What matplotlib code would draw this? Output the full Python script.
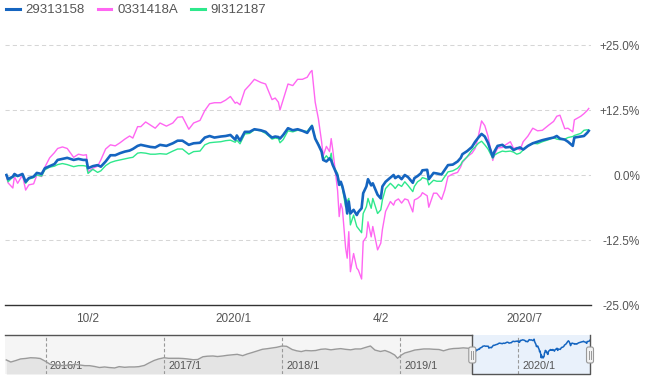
import matplotlib
matplotlib.use('Agg')
import matplotlib.pyplot as plt
import matplotlib.dates as mdates
from matplotlib.lines import Line2D
from matplotlib.patches import FancyBboxPatch
from matplotlib.transforms import IdentityTransform, blended_transform_factory
import pandas as pd

plt.rcParams['font.family'] = ['Liberation Sans', 'DejaVu Sans']

# ---------------- data ----------------
series_names = ['29313158', '0331418A', '9I312187']
start_date = '2019-08-12'
day_offsets = [0, 1, 4, 5, 7, 10, 12, 14, 17, 19, 22, 24, 27, 30, 32, 35, 38, 42, 45, 48,
               50, 51, 54, 57, 59, 62, 65, 68, 71, 74, 77, 79, 82, 84, 87, 90, 93, 96, 100, 104,
               107, 110, 114, 117, 121, 124, 127, 130, 134, 137, 140, 143, 144, 146, 149, 152, 155, 159, 162, 164,
               166, 168, 170, 171, 173, 176, 179, 182, 185, 188, 190, 191, 193, 195, 197, 198, 200, 202, 203, 204,
               207, 208, 209, 210, 212, 213, 214, 215, 217, 219, 220, 222, 223, 225, 226, 228, 229, 232, 234, 235,
               237, 240, 242, 243, 245, 247, 249, 251, 254, 255, 257, 259, 260, 263, 264, 267, 269, 272, 274, 276,
               279, 282, 284, 285, 288, 291, 293, 295, 297, 299, 301, 304, 305, 307, 310, 312, 315, 317, 319, 321,
               323, 326, 329, 332, 335, 339, 342, 344, 346, 349, 351, 354, 355, 359, 361, 363, 364]
blue = [0, -0.8, -0.3, 0.2, -0.2, 0.2, -1.3, -0.6, -0.3, 0.4, 0.2, 1.3, 1.7, 2.1, 2.9, 3.1, 3.3, 2.9, 3.1, 2.9,
        2.9, 1.3, 1.7, 1.9, 1.6, 2.6, 3.8, 3.8, 4.2, 4.5, 4.7, 5.0, 5.6, 5.8, 5.6, 5.4, 5.3, 5.8, 5.6, 6.1,
        6.6, 6.6, 5.8, 6.1, 6.2, 7.2, 7.5, 7.2, 7.4, 7.5, 7.7, 6.8, 7.6, 6.6, 8.3, 8.3, 8.8, 8.6, 8.3, 7.7,
        7.2, 7.4, 7.3, 7.0, 7.7, 9.0, 8.6, 8.8, 8.5, 8.1, 9.0, 9.4, 7.0, 5.8, 4.5, 2.9, 2.6, 3.2, 2.8, 1.9,
        -0.2, -1.9, -1.3, -2.2, -4.8, -7.4, -5.1, -7.4, -6.7, -7.7, -7.1, -6.4, -3.5, -2.2, -0.8, -2.0, -1.6, -3.8, -4.5, -2.2,
        -1.3, -0.5, 0.0, -0.6, -0.2, -0.8, 0.0, -0.4, -1.5, -0.6, -0.2, 0.3, 0.9, 1.0, -0.8, 0.4, 0.3, 0.1, 1.0, 1.9,
        2.0, 2.6, 3.3, 4.0, 4.6, 5.4, 6.4, 7.2, 7.9, 7.4, 6.2, 3.5, 4.5, 5.6, 5.8, 5.3, 5.4, 4.8, 5.1, 5.3,
        4.9, 5.6, 6.1, 6.4, 6.7, 7.0, 7.2, 7.5, 7.0, 6.8, 6.4, 5.6, 7.2, 7.4, 7.5, 8.1, 8.5]
pink = [-0.3, -1.5, -2.5, -0.3, -1.6, 0.0, -2.9, -1.9, -1.7, 0.0, -0.3, 1.5, 3.3, 4.3, 5.1, 5.4, 5.1, 3.4, 4.0, 3.8,
        3.9, 0.6, 1.3, 1.7, 2.9, 5.0, 5.8, 5.6, 6.2, 6.9, 7.5, 7.1, 9.3, 9.3, 10.2, 9.6, 9.0, 10.0, 9.4, 10.0,
        11.1, 11.2, 8.8, 10.0, 10.5, 12.4, 13.7, 13.9, 13.9, 14.4, 15.1, 13.8, 14.0, 13.5, 16.3, 17.3, 18.4, 17.8, 17.5, 16.0,
        14.5, 14.8, 14.0, 12.5, 14.5, 17.5, 17.2, 18.4, 18.4, 18.8, 19.8, 20.1, 14.0, 10.8, 6.4, 3.7, 5.5, 4.5, 7.0, 4.8,
        -3.0, -8.0, -5.5, -6.5, -14.0, -16.0, -10.9, -18.6, -15.1, -17.9, -18.3, -20.0, -12.8, -11.9, -9.0, -11.9, -9.9, -14.4, -13.1, -10.5,
        -7.0, -5.1, -5.8, -5.0, -4.6, -5.4, -4.6, -4.8, -7.1, -4.8, -4.5, -4.0, -3.4, -4.0, -6.2, -3.5, -3.5, -4.7, -2.9, -0.3,
        0.2, 0.5, 1.6, 2.4, 3.5, 4.2, 5.1, 7.5, 10.4, 9.5, 7.5, 2.8, 3.8, 5.2, 5.3, 5.8, 6.4, 5.1, 5.3, 4.8,
        6.4, 7.5, 9.0, 8.5, 8.6, 9.6, 10.3, 11.3, 11.5, 8.9, 9.0, 8.3, 10.6, 11.3, 11.8, 12.4, 12.8]
green = [0.0, -1.3, -0.4, -0.2, -0.2, 0.0, -1.6, -0.8, -0.5, 0.0, -0.2, 1.0, 1.5, 1.7, 2.0, 2.2, 2.0, 1.6, 1.8, 1.8,
         1.7, 0.3, 1.1, 0.5, 0.8, 1.8, 2.4, 2.7, 2.9, 3.1, 3.3, 3.4, 4.2, 4.3, 4.2, 4.0, 4.0, 4.1, 4.0, 4.6,
         5.0, 5.0, 4.0, 4.5, 4.6, 5.8, 6.2, 6.3, 6.4, 6.6, 6.7, 6.3, 6.7, 6.0, 7.9, 8.0, 8.7, 8.5, 8.0, 7.5,
         6.9, 7.1, 7.0, 6.2, 6.8, 8.5, 8.3, 8.6, 8.5, 8.4, 9.2, 9.6, 7.0, 6.0, 4.5, 2.9, 3.7, 2.9, 4.2, 1.9,
         0.3, -1.3, -1.8, -2.5, -6.1, -5.0, -4.5, -9.6, -7.7, -9.9, -10.3, -11.1, -7.4, -6.1, -4.5, -6.4, -4.5, -7.4, -6.7, -4.8,
         -2.6, -1.6, -2.2, -2.6, -1.8, -2.2, -1.3, -2.0, -3.2, -2.2, -1.3, -0.9, -0.5, -0.8, -1.9, -1.0, -1.2, -1.2, -0.3, 0.6,
         0.8, 1.3, 2.0, 2.6, 3.5, 4.8, 5.4, 6.1, 6.5, 5.8, 5.0, 3.2, 3.8, 4.2, 4.6, 4.5, 4.6, 4.4, 4.0, 4.2,
         4.8, 5.6, 6.1, 6.0, 6.4, 6.8, 7.2, 6.9, 6.8, 6.9, 7.2, 7.4, 7.6, 8.0, 8.6, 8.7, 8.6]

ytick_values = [25, 12.5, 0, -12.5, -25]
ytick_labels = ['+25.0%', '+12.5%', '0.0%', '-12.5%', '-25.0%']
xtick_dates = ['2019-10-02', '2020-01-01', '2020-04-02', '2020-07-01']
xtick_labels = ['10/2', '2020/1', '4/2', '2020/7']

# navigator (long history of the first fund, index level)
nav_dates = ['2015-09-01', '2015-09-15', '2015-10-01', '2015-10-15', '2015-11-01', '2015-11-15', '2015-12-01', '2015-12-15',
             '2016-01-01', '2016-01-15', '2016-02-01', '2016-02-15', '2016-03-01', '2016-03-15', '2016-04-01', '2016-04-15',
             '2016-05-01', '2016-05-15', '2016-06-01', '2016-06-15', '2016-07-01', '2016-07-15', '2016-08-01', '2016-08-15',
             '2016-09-01', '2016-09-15', '2016-10-01', '2016-10-15', '2016-11-01', '2016-11-15', '2016-12-01', '2016-12-15',
             '2017-01-01', '2017-01-15', '2017-02-01', '2017-02-15', '2017-03-01', '2017-03-15', '2017-04-01', '2017-04-15',
             '2017-05-01', '2017-05-15', '2017-06-01', '2017-06-15', '2017-07-01', '2017-07-15', '2017-08-01', '2017-08-15',
             '2017-09-01', '2017-09-15', '2017-10-01', '2017-10-15', '2017-11-01', '2017-11-15', '2017-12-01', '2017-12-15',
             '2018-01-01', '2018-01-15', '2018-02-01', '2018-02-15', '2018-03-01', '2018-03-15', '2018-04-01', '2018-04-15',
             '2018-05-01', '2018-05-15', '2018-06-01', '2018-06-15', '2018-07-01', '2018-07-15', '2018-08-01', '2018-08-15',
             '2018-09-01', '2018-09-15', '2018-10-01', '2018-10-15', '2018-11-01', '2018-11-15', '2018-12-01', '2018-12-15',
             '2018-12-24', '2019-01-05', '2019-01-15', '2019-02-01', '2019-02-15', '2019-03-01', '2019-03-15', '2019-04-01',
             '2019-04-15', '2019-05-01', '2019-05-15', '2019-06-01', '2019-06-15', '2019-07-01', '2019-07-15', '2019-08-01']
nav_values = [90.5, 88.6, 90.0, 91.4, 91.9, 92.5, 92.3, 91.8,
              89.1, 86.5, 85.9, 85.5, 85.5, 85.9, 86.4, 85.9,
              85.3, 85.3, 84.5, 83.6, 84.1, 83.6, 83.2, 84.4,
              83.8, 84.1, 84.1, 84.4, 85.5, 87.7, 90.0, 91.4,
              92.5, 92.0, 92.0, 92.0, 91.8, 91.4, 90.7, 90.9,
              93.4, 93.9, 94.1, 93.6, 94.1, 94.7, 95.2, 95.6,
              94.4, 95.9, 97.3, 98.6, 100.2, 100.7, 101.4, 102.0,
              103.2, 102.9, 100.0, 98.8, 98.1, 99.1, 98.8, 99.1,
              100.2, 100.5, 99.7, 100.3, 100.8, 100.2, 99.7, 100.5,
              100.5, 101.8, 103.2, 99.5, 98.2, 99.1, 97.3, 95.0,
              92.0, 95.0, 96.8, 98.2, 99.5, 100.0, 100.5, 100.5,
              100.2, 100.0, 98.8, 100.3, 100.9, 101.1, 101.5, 101.1]
nav_start = '2015-08-28'
nav_year_dates = ['2016-01-01', '2017-01-01', '2018-01-01', '2019-01-01', '2020-01-01']
nav_year_labels = ['2016/1', '2017/1', '2018/1', '2019/1', '2020/1']

# ---------------- styling ----------------
BLUE = '#1565c0'
PINK = '#ff66f2'
GREEN = '#2ee88c'
TXT = '#555555'

W, H = 649, 391
fig = plt.figure(figsize=(W / 100, H / 100), dpi=100)
fig.patch.set_facecolor('white')


def px(l, t, r, b):
    return [l / W, 1 - b / H, (r - l) / W, (b - t) / H]


start = pd.Timestamp(start_date)
dates = start + pd.to_timedelta(day_offsets, unit='D')

ax = fig.add_axes(px(5, 28, 591, 305))
ax.plot(dates, pink, color=PINK, lw=1.0, zorder=3)
ax.plot(dates, green, color=GREEN, lw=1.0, zorder=4)
ax.plot(dates, blue, color=BLUE, lw=1.9, zorder=5)
ax.set_xlim(start - pd.Timedelta(days=0.9), start + pd.Timedelta(days=365.4))
ax.set_ylim(-25, 28.27)

ax.set_yticks(ytick_values)
ax.set_yticklabels(ytick_labels)
ax.yaxis.tick_right()
ax.tick_params(axis='y', length=0, pad=35.3, labelsize=8.5, labelcolor=TXT)
for lab in ax.get_yticklabels():
    lab.set_horizontalalignment('right')
ax.yaxis.grid(True, color='#d6d6d6', lw=0.75, ls=(0, (4, 3)), zorder=1)

ax.set_xticks(pd.to_datetime(xtick_dates))
ax.set_xticklabels(xtick_labels)
ax.tick_params(axis='x', length=0, pad=6, labelsize=8.5, labelcolor=TXT)

for s in ['top', 'left', 'right']:
    ax.spines[s].set_visible(False)
ax.spines['bottom'].set_color('#333333')
ax.spines['bottom'].set_linewidth(1.0)
ax.spines['bottom'].set_zorder(6)

handles = [Line2D([], [], color=c, lw=2.2) for c in (BLUE, PINK, GREEN)]
fig.legend(handles, series_names, loc='upper left', bbox_to_anchor=(6 / W, 1 - 4 / H),
           ncol=3, frameon=False, fontsize=9.5, handlelength=1.05, handletextpad=0.45,
           columnspacing=0.95, borderaxespad=0, borderpad=0, labelcolor=TXT)

# ---------------- navigator ----------------
ax2 = fig.add_axes(px(5, 335, 590, 374))
nav_x = pd.to_datetime(nav_dates)
sel_start = dates[0]
sel_end = dates[-1]
n_left = mdates.date2num(pd.Timestamp(nav_start))
n_sel0 = mdates.date2num(sel_start)
n_sel1 = mdates.date2num(sel_end)
ax2.set_xlim(n_left, n_sel1)
ax2.set_ylim(77.7, 113.2)
ax2.axis('off')

trans = blended_transform_factory(ax2.transData, ax2.transAxes)
ax2.axvspan(n_left, n_sel0, color='#f5f5f5', zorder=0, lw=0)
ax2.axvspan(n_sel0, n_sel1, color='#e9f1fb', zorder=0, lw=0)

hist_x = list(mdates.date2num(nav_x)) + [n_sel0]
nav_blue = [100 * (1 + v / 100) for v in blue]
hist_y = list(nav_values) + [nav_blue[0]]
ax2.fill_between(hist_x, hist_y, 77.7, color='#e4e4e4', lw=0, zorder=1)
ax2.plot(hist_x, hist_y, color='#9a9a9a', lw=1.0, zorder=3)
ax2.plot(mdates.date2num(dates), nav_blue, color=BLUE, lw=1.1, zorder=3)

for d, lab in zip(mdates.date2num(pd.to_datetime(nav_year_dates)), nav_year_labels):
    ax2.plot([d, d], [0, 1], transform=trans, color='#999999', lw=0.8, ls=(0, (3, 2)), zorder=2)
    ax2.annotate(lab, xy=(d, 0.2), xycoords=trans, xytext=(3, 0), textcoords='offset points',
                 va='center', ha='left', fontsize=7.8, color=TXT, zorder=2)

out_c = '#555555'
ax2.plot([n_left, n_sel0], [1, 1], transform=trans, color=out_c, lw=1.0, clip_on=False, zorder=5)
ax2.plot([n_sel0, n_sel0, n_sel1, n_sel1], [1, 0, 0, 1], transform=trans, color=out_c,
         lw=1.0, clip_on=False, zorder=5)

# handles
for d in (n_sel0, n_sel1):
    xc = ax2.transData.transform((d, 100))[0]
    yb = H - 363
    box = FancyBboxPatch((xc - 3.5, yb), 7, 16, boxstyle='round,pad=0,rounding_size=2',
                         fc='#f2f2f2', ec='#999999', lw=0.8, transform=IdentityTransform(), zorder=10)
    fig.add_artist(box)
    for dx in (-1.2, 1.2):
        fig.add_artist(Line2D([xc + dx, xc + dx], [yb + 4, yb + 12], color='#999999', lw=0.7,
                              transform=IdentityTransform(), zorder=11))

fig.savefig('out.png', dpi=100)
